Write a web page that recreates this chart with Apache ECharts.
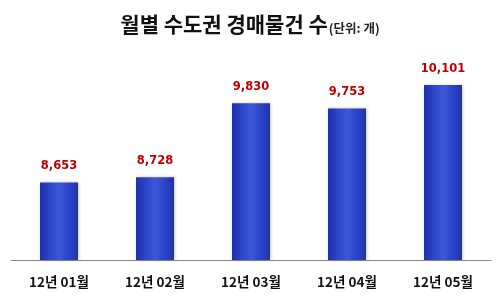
<!DOCTYPE html>
<html><head><meta charset="utf-8">
<script src="https://cdn.jsdelivr.net/npm/echarts@6/dist/echarts.min.js"></script>
<style>html,body{margin:0;padding:0;background:#fff}#c{width:500px;height:299px}</style>
</head><body><div id="c"></div>
<script>
const categories = ['12년 01월', '12년 02월', '12년 03월', '12년 04월', '12년 05월'];
const values = [8653, 8728, 9830, 9753, 10101];
const titleMain = '월별 수도권 경매물건 수';
const titleUnit = '(단위: 개)';

const chart = echarts.init(document.getElementById('c'));
chart.setOption({
  backgroundColor: '#fff',
  animation: false,
  title: {
    text: '{a|' + titleMain + '}{b|' + titleUnit + '}',
    left: 'center', top: 9,
    textStyle: {
      rich: {
        a: {fontFamily: 'Noto Sans CJK KR', fontWeight: 'bold', fontSize: 21, color: '#111'},
        b: {fontFamily: 'Noto Sans CJK KR', fontSize: 12.5, color: '#222', verticalAlign: 'bottom', padding: [5, 0, 0, 1]}
      }
    }
  },
  grid: {left: 11, right: 9, top: 24.5, bottom: 39},
  xAxis: {
    type: 'category', data: categories,
    axisLine: {lineStyle: {color: '#8a8a8a', width: 1}},
    axisTick: {show: false},
    axisLabel: {margin: 15, fontFamily: 'Noto Sans CJK KR', fontWeight: 'bold', fontSize: 13.5, color: '#111'}
  },
  yAxis: {type: 'value', min: 7500, max: 11000, show: false, splitLine: {show: false}},
  series: [{
    type: 'bar', data: values, barWidth: 38,
    itemStyle: {
      color: new echarts.graphic.LinearGradient(0, 0, 1, 0, [
        {offset: 0, color: '#1f30ae'},
        {offset: 0.5, color: '#3a58dc'},
        {offset: 1, color: '#1f30ae'}
      ]),
      shadowColor: 'rgba(0,0,0,0.2)', shadowBlur: 3, shadowOffsetX: 1, shadowOffsetY: 0
    },
    label: {
      show: true, position: 'top', distance: 10,
      fontFamily: 'DejaVu Sans', fontWeight: 'bold', fontSize: 11.5, color: '#c00000',
      formatter: p => p.value.toLocaleString('en-US')
    }
  }]
});
</script></body></html>
